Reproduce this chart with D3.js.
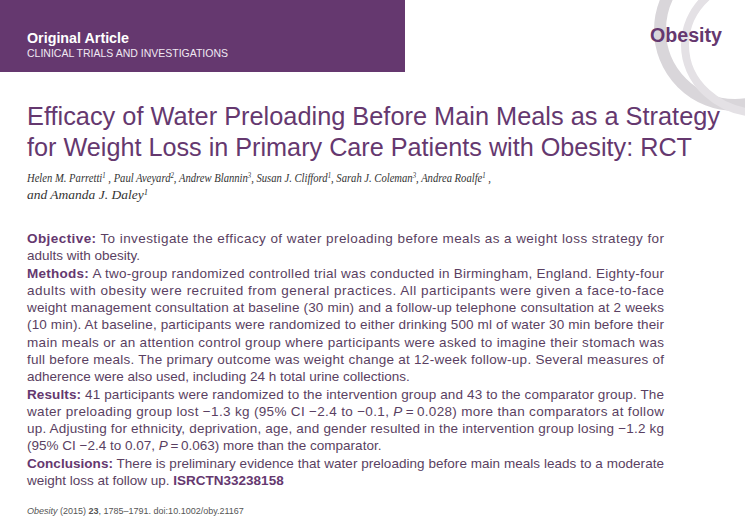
<!DOCTYPE html><html><head><meta charset="utf-8">
<script src="https://cdn.jsdelivr.net/npm/d3@7"></script>
<style>body{margin:0;background:#fff}</style></head><body>
<script>
const headerLines = ["Original Article", "CLINICAL TRIALS AND INVESTIGATIONS"];
const journalName = "Obesity";
const titleLines = ["Efficacy of Water Preloading Before Main Meals as a Strategy",
  "for Weight Loss in Primary Care Patients with Obesity: RCT"];
const authorLines = [
  [["Helen M. Parretti",""],["1","sup"],[" , Paul Aveyard",""],["2","sup"],[", Andrew Blannin",""],["3","sup"],[", Susan J. Clifford",""],["1","sup"],[", Sarah J. Coleman",""],["3","sup"],[", Andrea Roalfe",""],["1","sup"],[" ,",""]],
  [["and Amanda J. Daley",""],["1","sup"]]
];
// [segments, justified]
const abstractLines = [
  [[["Objective:","b"],[" To investigate the efficacy of water preloading before meals as a weight loss strategy for",""]],true],
  [[["adults with obesity.",""]],false],
  [[["Methods:","b"],[" A two-group randomized controlled trial was conducted in Birmingham, England. Eighty-four",""]],true],
  [[["adults with obesity were recruited from general practices. All participants were given a face-to-face",""]],true],
  [[["weight management consultation at baseline (30 min) and a follow-up telephone consultation at 2 weeks",""]],true],
  [[["(10 min). At baseline, participants were randomized to either drinking 500 ml of water 30 min before their",""]],true],
  [[["main meals or an attention control group where participants were asked to imagine their stomach was",""]],true],
  [[["full before meals. The primary outcome was weight change at 12-week follow-up. Several measures of",""]],true],
  [[["adherence were also used, including 24 h total urine collections.",""]],false],
  [[["Results:","b"],[" 41 participants were randomized to the intervention group and 43 to the comparator group. The",""]],true],
  [[["water preloading group lost \u22121.3 kg (95% CI \u22122.4 to \u22120.1, ",""],["P","i"],["\u2009=\u20090.028) more than comparators at follow",""]],true],
  [[["up. Adjusting for ethnicity, deprivation, age, and gender resulted in the intervention group losing \u22121.2 kg",""]],true],
  [[["(95% CI \u22122.4 to 0.07, ",""],["P","i"],["\u2009=\u20090.063) more than the comparator.",""]],false],
  [[["Conclusions:","b"],[" There is preliminary evidence that water preloading before main meals leads to a moderate",""]],true],
  [[["weight loss at follow up. ",""],["ISRCTN33238158","b"]],false]
];
const footerSegs = [["Obesity","i"],[" (2015) ",""],["23","b"],[", 1785\u20131791. doi:10.1002/oby.21167",""]];

const W=745,H=526;
const svg=d3.select("body").append("svg").attr("width",W).attr("height",H);
const purple="#65386f", textCol="#5a3f62";
const g=svg.append("g");
g.append("ellipse").attr("cx",735).attr("cy",30).attr("rx",75).attr("ry",75).attr("fill","none").attr("stroke","#d9d6da").attr("stroke-width",12);
g.append("ellipse").attr("cx",760).attr("cy",45).attr("rx",75).attr("ry",68).attr("fill","none").attr("stroke","#e4e1e5").attr("stroke-width",8);
svg.append("rect").attr("x",0).attr("y",0).attr("width",405).attr("height",72).attr("fill",purple);
const hf="'Liberation Sans Narrow','Liberation Sans',Arial,sans-serif";
svg.append("text").attr("x",27).attr("y",43).attr("fill","#fff").attr("font-family",hf).attr("font-weight","bold").attr("font-size",14).attr("textLength",102).attr("lengthAdjust","spacingAndGlyphs").text(headerLines[0]);
svg.append("text").attr("x",27).attr("y",57).attr("fill","#f0e8f2").attr("font-family",hf).attr("font-size",11).attr("textLength",201).attr("lengthAdjust","spacingAndGlyphs").text(headerLines[1]);
svg.append("text").attr("x",722).attr("y",42).attr("text-anchor","end").attr("fill",purple).attr("font-family",hf).attr("font-weight","bold").attr("font-size",20).attr("textLength",72).attr("lengthAdjust","spacingAndGlyphs").text(journalName);
const ty=d3.scaleLinear().domain([0,1]).range([125,156]);
const tLens=[693,665];
titleLines.forEach((t,i)=>svg.append("text").attr("x",27).attr("y",ty(i)).attr("fill",purple).attr("font-family",hf).attr("font-size",25).attr("textLength",tLens[i]).attr("lengthAdjust","spacingAndGlyphs").text(t));
const ay=d3.scaleLinear().domain([0,1]).range([182,199]);
const aLens=[464,121];
authorLines.forEach((segs,i)=>{
  const t=svg.append("text").attr("class","auth").attr("x",27).attr("y",ay(i)).attr("fill","#333").attr("font-family","'Liberation Serif',serif").attr("font-style","italic").attr("font-size",12.5).attr("textLength",aLens[i]).attr("lengthAdjust","spacingAndGlyphs");
  segs.forEach(s=>{const sp=t.append("tspan").text(s[0]); if(s[1]=="sup") sp.attr("font-size",8);});
});
svg.selectAll("text.auth").each(function(){
  const ts=d3.select(this).selectAll("tspan").nodes(); let cur=0;
  ts.forEach(n=>{const s=d3.select(n); if(s.attr("font-size")=="8"){s.attr("dy",-4-cur);cur=-4;} else {s.attr("dy",-cur);cur=0;}});
});
const by=d3.scaleLinear().domain([0,abstractLines.length-1]).range([243,485]);
const bx0=27,bx1=664;
function addSegs(t,segs){segs.forEach(s=>{const sp=t.append("tspan").text(s[0]); if(s[1]=="b"){sp.attr("font-weight","bold").attr("fill",purple);} if(s[1]=="i") sp.attr("font-style","italic");});}
abstractLines.forEach((l,i)=>{
  const t=svg.append("text").attr("x",bx0).attr("y",by(i)).attr("fill",textCol).attr("font-family",hf).attr("font-size",13.5).attr("xml:space","preserve");
  addSegs(t,l[0]);
  if(l[1]) t.attr("textLength",bx1-bx0).attr("lengthAdjust","spacing");
});
const f=svg.append("text").attr("x",27).attr("y",514).attr("fill","#555").attr("font-family",hf).attr("font-size",9).attr("xml:space","preserve");
addSegs(f,footerSegs); f.selectAll("tspan").attr("fill",null);
</script></body></html>
